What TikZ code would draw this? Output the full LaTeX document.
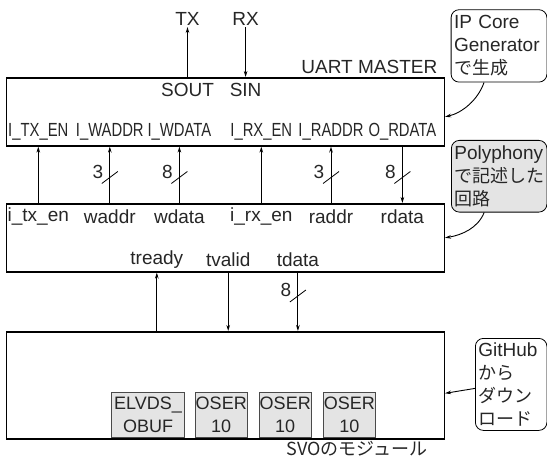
\documentclass[tikz,border=0pt]{standalone}
\usepackage{fontspec}
\setmainfont{Liberation Sans}
\newfontfamily\jpfont{Noto Sans CJK JP}
\newfontfamily\narrowfont[FakeStretch=0.78]{Liberation Sans}
\usetikzlibrary{arrows.meta,positioning,calc}
\definecolor{notegray}{HTML}{E4E4E4}
\definecolor{edgegray}{HTML}{4A4A4A}
\definecolor{inkgray}{HTML}{262626}
\newcommand{\jp}[1]{{\jpfont\fontsize{18}{23}\selectfont #1}}

\begin{document}
\begin{tikzpicture}[x=1pt,y=-1pt,
    blk/.style={draw, line width=1.6pt, minimum width=438, minimum height=#1, inner sep=0pt, anchor=north west},
    sub/.style={draw=edgegray, fill=notegray, line width=1.5pt, minimum height=45, inner sep=0pt, align=center, anchor=south west, text=inkgray, font=\fontsize{18}{23}\selectfont},
    lbl/.style={inner sep=1pt, text=inkgray, font=\fontsize{19}{23}\selectfont},
    port/.style={inner sep=1pt, text=inkgray, font=\narrowfont\fontsize{19}{23}\selectfont},
    note/.style={draw, rounded corners=8pt, line width=0.8pt, inner xsep=3pt, inner ysep=0pt, align=left, anchor=north west, text=inkgray, font=\fontsize{19}{23}\selectfont},
    sig/.style={line width=0.9pt, -{Stealth[length=6pt,width=3.6pt]}},
    pics/busw/.style={code={
        \draw[line width=0.8pt] (-8,6) -- (8,-6);
        \node[lbl] (num) at (-12,-6) {#1};
    }}
]
    \useasboundingbox (0,0) rectangle (547,460);

    % Blocks
    \node[blk=68] (uart) at (5.5,77) {};
    \node[blk=68] (poly) at (5.5,203) {};
    \node[blk=107] (svo) at (5.5,331) {};

    % Modules inside SVO
    \node[sub, minimum width=73] (elvds) at (110.8,438) {ELVDS\_\\OBUF};
    \node[sub, minimum width=52] (oserA) at (194.5,438) {OSER\\10};
    \node[sub, minimum width=52] (oserB) at (258.5,438) {OSER\\10};
    \node[sub, minimum width=52] (oserC) at (322.6,438) {OSER\\10};

    % UART master
    \node[lbl] (tx) at (187.5,19.3) {TX};
    \node[lbl] (rx) at (245.6,19.3) {RX};
    \node[lbl, anchor=east] (uartname) at (438.5,66.7) {UART MASTER};
    \node[lbl] (sout) at (187.5,90) {SOUT};
    \node[lbl] (sin) at (245.6,90) {SIN};
    \node[port] (ptxen) at (38.3,131.7) {I\_TX\_EN};
    \node[port] (pwaddr) at (109.8,131.7) {I\_WADDR};
    \node[port] (pwdata) at (179.4,131.7) {I\_WDATA};
    \node[port] (prxen) at (261.3,131.7) {I\_RX\_EN};
    \node[port] (praddr) at (331,131.7) {I\_RADDR};
    \node[port] (pordata) at (402.4,131.7) {O\_RDATA};

    % Polyphony circuit
    \node[lbl] (itxen) at (38.3,216.7) {i\_tx\_en};
    \node[lbl] (waddr) at (109.8,216.7) {waddr};
    \node[lbl] (wdata) at (179.4,216.7) {wdata};
    \node[lbl] (irxen) at (261.3,216.7) {i\_rx\_en};
    \node[lbl] (raddr) at (331,216.7) {raddr};
    \node[lbl] (rdata) at (402.4,216.7) {rdata};
    \node[lbl] (tready) at (156.8,260) {tready};
    \node[lbl] (tvalid) at (228.2,260) {tvalid};
    \node[lbl] (tdata) at (297.9,260) {tdata};

    \node[lbl, anchor=base] (svoname) at (357,455) {\jp{SVOのモジュール}};

    % Signals
    \draw[sig] (tx |- uart.north) -- (tx.south);
    \draw[sig] (rx.south) -- (rx |- uart.north);
    \foreach \p in {ptxen,pwaddr,pwdata,prxen,praddr}
        \draw[sig] (\p |- poly.north) -- (\p |- uart.south);
    \draw[sig] (pordata |- uart.south) -- (pordata |- poly.north);
    \draw[sig] (tready |- svo.north) -- (tready |- poly.south);
    \draw[sig] (tvalid |- poly.south) -- (tvalid |- svo.north);
    \draw[sig] (tdata |- poly.south) -- (tdata |- svo.north);

    % Bus widths
    \pic (bwwaddr) at (pwaddr |- 0,177.5) {busw=3};
    \pic (bwwdata) at (pwdata |- 0,177.5) {busw=8};
    \pic (bwraddr) at (praddr |- 0,177.5) {busw=3};
    \pic (bwrdata) at (pordata |- 0,177.5) {busw=8};
    \pic (bwtdata) at (tdata |- 0,296) {busw=8};

    % Notes
    \node[note, text width=89.8, minimum height=72.4] (ipnote) at (450.7,9.3)
        {IP Core\\Generator\\\jp{で生成}};
    \node[note, fill=notegray, text width=89.5, minimum height=71.7] (polynote) at (451,140)
        {Polyphony\\\jp{で記述した}\\\jp{回路}};
    \node[note, text width=65.5, minimum height=92] (ghnote) at (475,338)
        {GitHub\\\jp{から}\\\jp{ダウン}\\\jp{ロード}};

    \draw[sig] ([xshift=-15pt]ipnote.south) .. controls (478,100) and (462,113) .. ([yshift=-5pt]uart.east);
    \draw[sig] ([xshift=-15pt]polynote.south) .. controls (478,228) and (462,235) .. (poly.east);
    \draw[sig] ([yshift=-4pt]ghnote.west) -- ([yshift=-8pt]svo.east);
\end{tikzpicture}
\end{document}
